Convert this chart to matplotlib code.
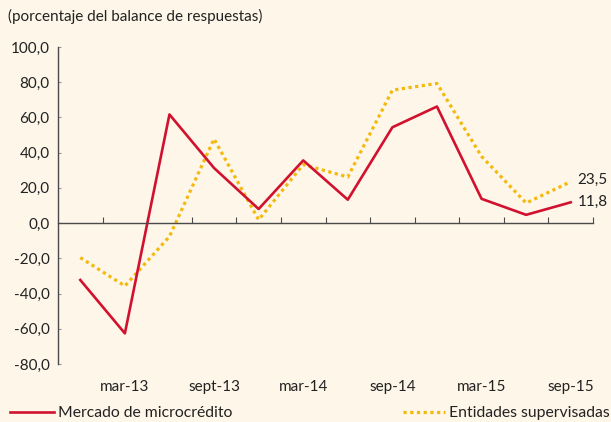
import matplotlib.pyplot as plt
from matplotlib.transforms import blended_transform_factory

# quarterly survey balance, dic-12 .. sep-15
periods = ["dic-12", "mar-13", "jun-13", "sept-13", "dic-13", "mar-14",
           "jun-14", "sep-14", "dic-14", "mar-15", "jun-15", "sep-15"]
shown_labels = {1: "mar-13", 3: "sept-13", 5: "mar-14", 7: "sep-14", 9: "mar-15", 11: "sep-15"}
microcredito = [-32.3, -62.6, 61.7, 31.3, 8.0, 35.6, 13.3, 54.4, 66.2, 13.8, 4.7, 11.8]
supervisadas = [-19.6, -35.7, -7.6, 47.8, 1.9, 33.2, 26.2, 75.5, 79.3, 37.9, 11.4, 23.5]

bg = "#fdf6e9"
red = "#d1112e"
yellow = "#f3b90c"
axis_col = "#4a4a4a"
fs = 11

plt.rcParams["font.family"] = ["Lato", "DejaVu Sans"]
plt.rcParams["font.size"] = fs
plt.rcParams["text.color"] = "#222222"

fig = plt.figure(figsize=(6.11, 4.22), dpi=100, facecolor=bg)
ax = fig.add_axes([58 / 611, 1 - 364 / 422, (593 - 58) / 611, (364 - 47) / 422])
ax.set_facecolor(bg)

x = list(range(len(periods)))
ax.plot(x, supervisadas, color=yellow, lw=2.3, linestyle=(0, (1, 1.1)),
        label="Entidades supervisadas")
ax.plot(x, microcredito, color=red, lw=1.9, label="Mercado de microcrédito")

ax.set_xlim(-0.5, len(periods) - 0.5)
ax.set_ylim(-80, 100)
ax.set_yticks(range(-80, 101, 20))
ax.set_yticklabels([f"{v:.1f}".replace(".", ",") for v in range(-80, 101, 20)])

for s in ["top", "right"]:
    ax.spines[s].set_visible(False)
ax.spines["left"].set_color(axis_col)
ax.spines["left"].set_linewidth(1.0)
ax.spines["bottom"].set_position(("data", 0))
ax.spines["bottom"].set_color(axis_col)
ax.spines["bottom"].set_linewidth(1.0)

ax.set_xticks([i + 0.5 for i in x])
ax.tick_params(axis="x", direction="in", length=4, width=0.8, color=axis_col,
               labelbottom=False)
ax.tick_params(axis="y", direction="in", length=2, width=0.8, color="#999999",
               pad=6, labelsize=fs, labelcolor="#222222")

trans = blended_transform_factory(ax.transData, ax.transAxes)
for i, lab in shown_labels.items():
    ax.text(i, -0.072, lab, transform=trans, ha="center", va="center", fontsize=fs)

ax.annotate(f"{supervisadas[-1]:.1f}".replace(".", ","), (x[-1], supervisadas[-1]),
            xytext=(5, 1), textcoords="offset points", va="center", ha="left",
            fontsize=fs, annotation_clip=False)
ax.annotate(f"{microcredito[-1]:.1f}".replace(".", ","), (x[-1], microcredito[-1]),
            xytext=(5, 0), textcoords="offset points", va="center", ha="left",
            fontsize=fs, annotation_clip=False)

fig.text(8 / 611, 1 - 16 / 422, "(porcentaje del balance de respuestas)",
         ha="left", va="center", fontsize=fs)

h_sup, h_mic = ax.get_lines()
fig.legend([h_mic], ["Mercado de microcrédito"], loc="center left",
           bbox_to_anchor=(10 / 611, 1 - 413 / 422), frameon=False, fontsize=11.3,
           handlelength=2.8, handletextpad=0.26, borderpad=0, borderaxespad=0)
fig.legend([h_sup], ["Entidades supervisadas"], loc="center right",
           bbox_to_anchor=(610 / 611, 1 - 413 / 422), frameon=False, fontsize=11.3,
           handlelength=2.7, handletextpad=0.26, borderpad=0, borderaxespad=0)

fig.savefig("out.png", dpi=100, facecolor=bg)
